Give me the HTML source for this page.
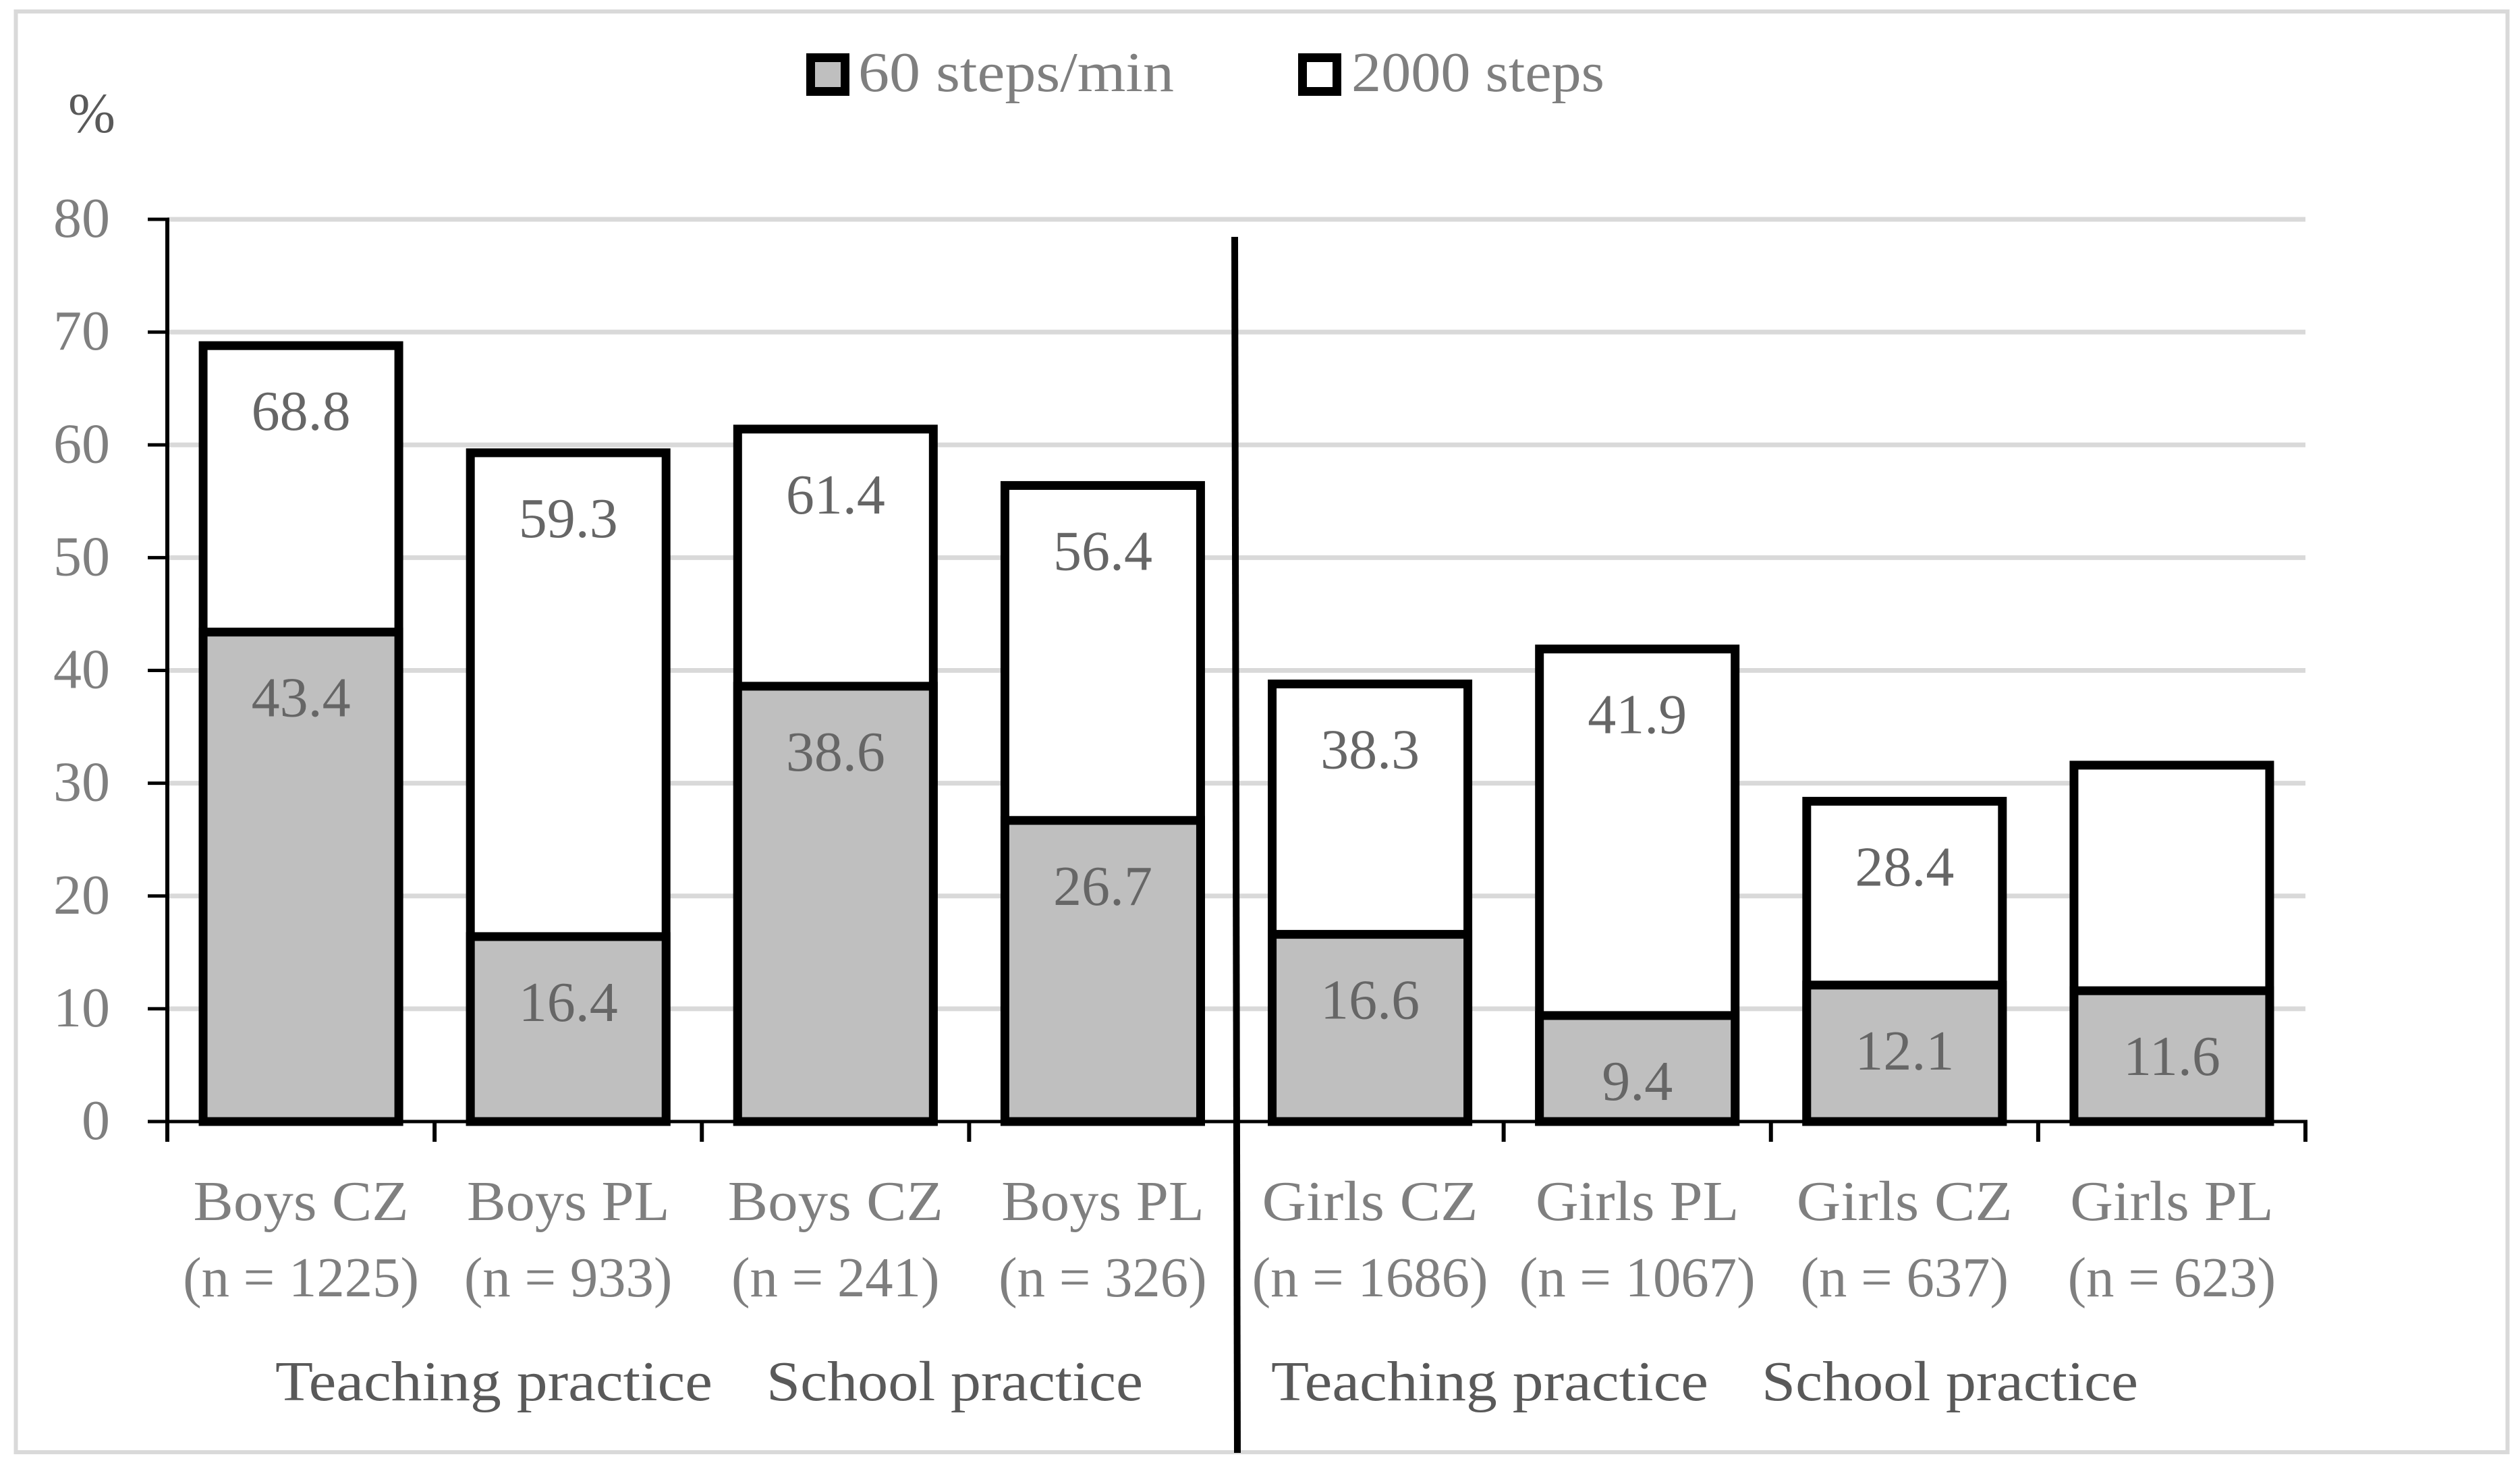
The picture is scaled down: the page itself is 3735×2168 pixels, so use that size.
<!DOCTYPE html>
<html lang="en">
<head>
<meta charset="utf-8">
<title>Share of pupils meeting 60 steps/min and 2000 steps</title>
<style>
  html, body { margin: 0; padding: 0; background: #fff; }
  body { width: 3735px; height: 2168px; overflow: hidden; }
  svg { display: block; }
  text { font-family: "Liberation Serif", serif; font-size: 84px; }
  .axis-text { fill: #7f7f7f; }
  .dark-text { fill: #595959; }
  .value-text { fill: #666666; text-anchor: middle; }
</style>
</head>
<body>
<svg id="chart" xmlns="http://www.w3.org/2000/svg" width="3735" height="2168" viewBox="0 0 3735 2168">
  <rect x="0" y="0" width="3735" height="2168" fill="#ffffff"/>
  <rect x="23.5" y="17" width="3693" height="2135" fill="#ffffff" stroke="#d9d9d9" stroke-width="6"/>
  <g id="grid"></g>
  <g id="axes"></g>
  <g id="bars"></g>
  <g id="yLabels"></g>
  <g id="xLabels"></g>
  <g id="values"></g>

  <text class="dark-text" x="101" y="196">%</text>

  <g>
    <g>
      <rect x="1201.5" y="85.5" width="51" height="50" fill="#bfbfbf" stroke="#000" stroke-width="13"/>
      <text class="axis-text" x="1272" y="135" textLength="468" lengthAdjust="spacingAndGlyphs">60 steps/min</text>
    </g>
    <g>
      <rect x="1930.5" y="85.5" width="51" height="50" fill="#ffffff" stroke="#000" stroke-width="13"/>
      <text class="axis-text" x="2003" y="135" textLength="375" lengthAdjust="spacingAndGlyphs">2000 steps</text>
    </g>
  </g>

  <text class="dark-text" x="408" y="2075" textLength="648" lengthAdjust="spacingAndGlyphs">Teaching practice</text>
  <text class="dark-text" x="1136" y="2075" textLength="558" lengthAdjust="spacingAndGlyphs">School practice</text>
  <text class="dark-text" x="1884" y="2075" textLength="648" lengthAdjust="spacingAndGlyphs">Teaching practice</text>
  <text class="dark-text" x="2611" y="2075" textLength="558" lengthAdjust="spacingAndGlyphs">School practice</text>

  <line x1="1830" y1="351" x2="1834" y2="2153" stroke="#000" stroke-width="10"/>
</svg>

<script>
const categories = ['Boys CZ', 'Boys PL', 'Boys CZ', 'Boys PL', 'Girls CZ', 'Girls PL', 'Girls CZ', 'Girls PL'];
const sampleSizes = ['(n = 1225)', '(n = 933)', '(n = 241)', '(n = 326)', '(n = 1686)', '(n = 1067)', '(n = 637)', '(n = 623)'];
const steps60Values = [43.4, 16.4, 38.6, 26.7, 16.6, 9.4, 12.1, 11.6];
const steps2000Values = [68.8, 59.3, 61.4, 56.4, 38.8, 41.9, 28.4, 31.6];
const steps60Labels = ['43.4', '16.4', '38.6', '26.7', '16.6', '9.4', '12.1', '11.6'];
const steps2000Labels = ['68.8', '59.3', '61.4', '56.4', '38.3', '41.9', '28.4', ''];
const yTicks = [0, 10, 20, 30, 40, 50, 60, 70, 80];

const SVG_NS = 'http://www.w3.org/2000/svg';
const plotLeft = 248, plotRight = 3417, plotBottom = 1662, plotTop = 325;
const yMax = 80;
const catWidth = (plotRight - plotLeft) / categories.length;
const barWidth = 290;
const barStroke = 13;

function yScale(v) { return plotBottom - (v / yMax) * (plotBottom - plotTop); }
function xCenter(i) { return plotLeft + catWidth * (i + 0.5); }
function xEdge(i) { return plotLeft + catWidth * i; }

function make(tag, attrs, parent) {
  const el = document.createElementNS(SVG_NS, tag);
  for (const k in attrs) el.setAttribute(k, attrs[k]);
  parent.appendChild(el);
  return el;
}
function fitText(el, factor) {
  el.setAttribute('textLength', (el.getComputedTextLength() * factor).toFixed(1));
  el.setAttribute('lengthAdjust', 'spacingAndGlyphs');
}
function nameStretch(name) {
  const base = name.indexOf('Girls') === 0 ? 1.05 : 1.03;
  return name.indexOf('CZ') > 0 ? base + 0.03 : base;
}

const gridG = document.getElementById('grid');
const axesG = document.getElementById('axes');
const barsG = document.getElementById('bars');
const yLabelsG = document.getElementById('yLabels');
const xLabelsG = document.getElementById('xLabels');
const valuesG = document.getElementById('values');

yTicks.forEach(function (t) {
  const y = yScale(t);
  if (t > 0) {
    const grid = make('line', { x1: plotLeft, x2: plotRight, y1: y, y2: y, stroke: '#d9d9d9', 'stroke-width': 7 }, gridG);
    
    
  }
  const tick = make('line', { x1: 219, x2: plotLeft, y1: y, y2: y, stroke: '#000', 'stroke-width': 5 }, axesG);
  
  
  const label = make('text', { x: 163, y: y + 26, 'text-anchor': 'end', class: 'axis-text' }, yLabelsG);
  label.textContent = String(t);
  
  
});

const yAxis = make('line', { x1: plotLeft, x2: plotLeft, y1: plotTop - 2.5, y2: 1692, stroke: '#000', 'stroke-width': 6 }, axesG);



const xAxis = make('line', { x1: plotLeft, x2: plotRight + 3, y1: plotBottom, y2: plotBottom, stroke: '#000', 'stroke-width': 5 }, axesG);



for (let i = 1; i <= categories.length; i++) {
  const tick = make('line', { x1: xEdge(i), x2: xEdge(i), y1: plotBottom, y2: 1692, stroke: '#000', 'stroke-width': 6 }, axesG);
  
  
}

function drawBar(i, value, fill, seriesName) {
  const top = yScale(value);
  const rect = make('rect', {
    x: xCenter(i) - barWidth / 2, y: top, width: barWidth, height: plotBottom - top,
    fill: fill, stroke: '#000', 'stroke-width': barStroke
  }, barsG);
  
  
}

function drawValue(i, value, text, seriesName) {
  if (!text) return;
  const label = make('text', { x: xCenter(i), y: yScale(value) + 125, class: 'value-text' }, valuesG);
  label.textContent = text;
  
  
}

categories.forEach(function (name, i) {
  drawBar(i, steps2000Values[i], '#ffffff', '2000-steps');
  drawBar(i, steps60Values[i], '#bfbfbf', '60-steps');
  drawValue(i, steps2000Values[i], steps2000Labels[i], '2000-steps');
  drawValue(i, steps60Values[i], steps60Labels[i], '60-steps');

  const nameLabel = make('text', { x: xCenter(i), y: 1808, 'text-anchor': 'middle', class: 'axis-text' }, xLabelsG);
  nameLabel.textContent = name;
  
  
  fitText(nameLabel, nameStretch(name));

  const nLabel = make('text', { x: xCenter(i), y: 1921, 'text-anchor': 'middle', class: 'axis-text' }, xLabelsG);
  nLabel.textContent = sampleSizes[i];
  
  
  fitText(nLabel, 0.985);
});
</script>
</body>
</html>
